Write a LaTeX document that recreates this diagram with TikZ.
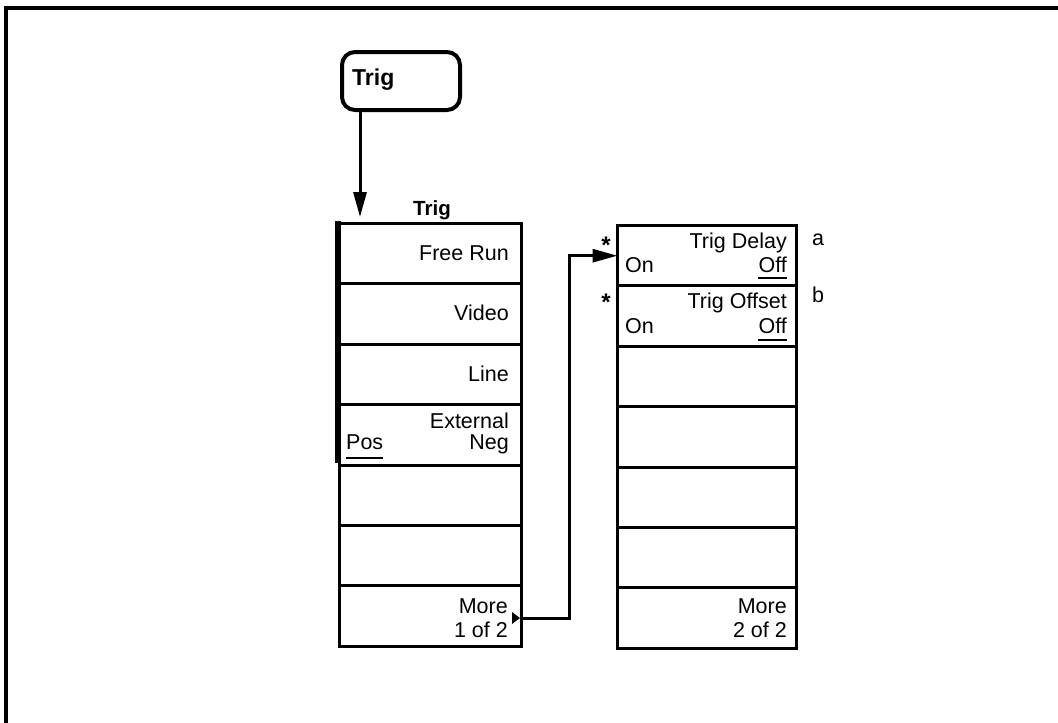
\documentclass[tikz,border=0pt]{standalone}
\usepackage{fontspec}
\setmainfont{Liberation Sans}
\usetikzlibrary{arrows.meta}
\begin{document}
\begin{tikzpicture}[x=1pt,y=-1pt,
  softkey/.style={draw, line width=3pt, minimum height=60.4pt, inner sep=0pt, outer sep=0pt, anchor=north west},
  lkey/.style={softkey, minimum width=182pt},
  rkey/.style={softkey, minimum width=179pt},
  txt/.style={font=\fontsize{21.5}{23}\selectfont, inner sep=0pt, anchor=base east},
  txtl/.style={txt, anchor=base west},
  star/.style={font=\bfseries\fontsize{24}{26}\selectfont, inner sep=0pt, anchor=base east},
  btxt/.style={font=\bfseries\fontsize{20.5}{22}\selectfont, inner sep=0pt},
  conn/.style={line width=3pt, -{Triangle[length=25pt,width=13pt]}},
  uline/.style={line width=2.5pt}]
\useasboundingbox (0,0) rectangle (1058,723);
% frame
\draw[line width=4pt] (6,723) -- (6,8) -- (1058,8);
% hard key
\node[draw, line width=4pt, rounded corners=13pt, minimum width=118pt, minimum height=58pt, inner sep=0pt, anchor=north west] (hk) at (340,50) {};
\node[btxt, font=\bfseries\fontsize{23}{24}\selectfont, anchor=base west] (hkt) at (352,85) {Trig};
% left column
\foreach \i in {1,...,7} {
  \node[lkey] (L\i) at (339,{223.5+(\i-1)*60.4}) {};
}
\draw[line width=6pt] (338,221) -- (338,463);
% right column
\foreach \i in {1,...,7} {
  \node[rkey] (R\i) at (617.5,{225.5+(\i-1)*60.4}) {};
}
% menu title
\node[btxt, anchor=base] (title) at (432,215) {Trig};
% arrow from key to menu
\coordinate (kt) at (360,217);
\draw[conn] (hk.south -| kt) -- (kt);
% left labels
\node[txt] (l1) at (509,260) {Free Run};
\node[txt] (l2) at (509,320) {Video};
\node[txt] (l3) at (509,381) {Line};
\node[txt] (l4a) at (509,428) {External};
\node[txt] (l4b) at (509,449) {Neg};
\node[txtl] (l4c) at (346,449) {Pos};
\draw[uline] (l4c.south west |- 0,458) -- (l4c.south east |- 0,458);
\node[txt] (l7a) at (508,613) {More};
\node[txt] (l7b) at (508,637) {1 of 2};
% right labels
\node[txt] (r1a) at (787,248) {Trig Delay};
\node[txtl] (r1b) at (625,272) {On};
\node[txt] (r1c) at (787,272) {Off};
\draw[uline] (r1c.south west |- 0,278) -- (r1c.south east |- 0,278);
\node[txt] (r2a) at (787,308) {Trig Offset};
\node[txtl] (r2b) at (625,333) {On};
\node[txt] (r2c) at (787,333) {Off};
\draw[uline] (r2c.south west |- 0,340) -- (r2c.south east |- 0,340);
\node[txt] (r7a) at (787,613) {More};
\node[txt] (r7b) at (787,637) {2 of 2};
% stars and notes
\node[star] (s1) at (611,253) {*};
\node[star] (s2) at (611,310) {*};
\node[txtl] (na) at (812,245) {a};
\node[txtl] (nb) at (812,302) {b};
% connector
\fill (512,612) -- (520,618) -- (512,624) -- cycle;
\coordinate (t1) at (520,618);
\coordinate (jog) at (569,618);
\draw[conn] (t1) -- (jog) |- (R1.west);
\end{tikzpicture}
\end{document}
